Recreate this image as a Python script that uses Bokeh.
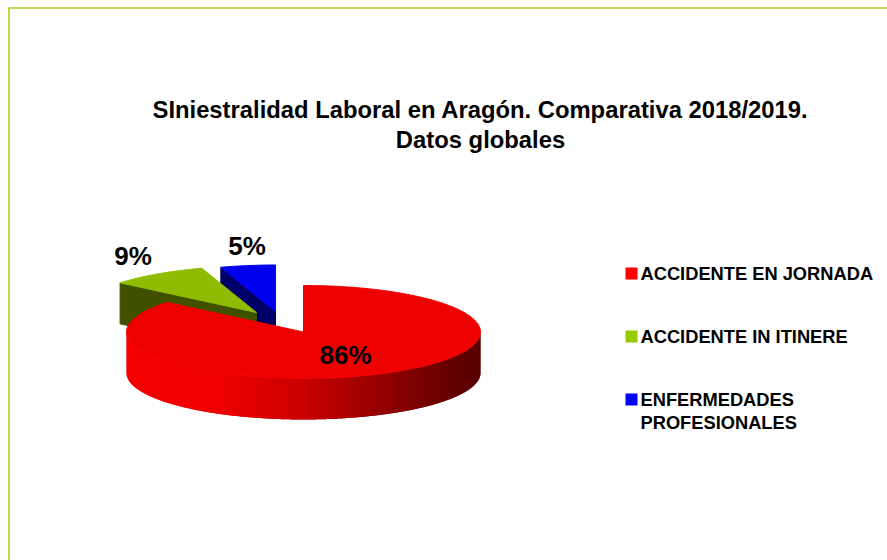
import math
from bokeh.plotting import figure
from bokeh.embed import file_html
from bokeh.resources import INLINE
from bokeh.core.properties import value
from bokeh.models import Range1d

categories = ["ACCIDENTE EN JORNADA", "ACCIDENTE IN ITINERE", "ENFERMEDADES PROFESIONALES"]
values = [86, 9, 5]
pct_labels = ["86%", "9%", "5%"]
title_lines = ["SIniestralidad Laboral en Aragón. Comparativa 2018/2019.", "Datos globales"]

FONT = value("Liberation Sans")
W, H = 887, 560
p = figure(width=W, height=H, x_range=Range1d(0, W), y_range=Range1d(H, 0),
           output_backend="svg", toolbar_location=None, min_border=0,
           background_fill_color="white", border_fill_color="white")
p.axis.visible = False
p.grid.visible = False
p.outline_line_color = None

# frame
p.segment([8, 8.5], [7.5, 7.5], [W, 8.5], [7.5, H], line_color="#A6D21E", line_width=1.6)

RX, RY, DEPTH = 177.0, 46.5, 41.0
CENTERS = [(303.0, 331.5), (256.0, 312.0), (275.0, 311.0)]
TOPS = ["#EE0000", "#8FBC00", "#0000EE"]
FACES = ["#7A0000", "#3F5000", "#000066"]
SWATCH = ["#FF0000", "#99CC00", "#0000FF"]

total = sum(values)
edges = [0.0]
for v in values:
    edges.append(edges[-1] + 360.0 * v / total)


def pt(c, deg):
    a = math.radians(deg)
    return c[0] + RX * math.sin(a), c[1] - RY * math.cos(a)


def wedge(c, a0, a1):
    n = max(2, int(a1 - a0))
    pts = [c] + [pt(c, a0 + (a1 - a0) * i / n) for i in range(n + 1)]
    return [q[0] for q in pts], [q[1] for q in pts]


def lerp_color(t):
    stops = [(0.0, (245, 0, 0)), (0.25, (240, 0, 0)), (0.5, (200, 0, 0)), (0.75, (140, 0, 0)), (0.93, (96, 0, 0)), (1.0, (90, 0, 0))]
    for (t0, c0), (t1, c1) in zip(stops, stops[1:]):
        if t <= t1:
            f = (t - t0) / (t1 - t0)
            return "#%02X%02X%02X" % tuple(round(a + (b - a) * f) for a, b in zip(c0, c1))
    return "#5A0000"


# back slices first: blue, then green
for i in (2, 1):
    c = CENTERS[i]
    a0, a1 = edges[i], edges[i + 1]
    ox, oy = pt(c, a0)
    p.patch([c[0], ox, ox, c[0]], [c[1], oy, oy + DEPTH, c[1] + DEPTH], fill_color=FACES[i], line_color=FACES[i])
    xs, ys = wedge(c, a0, a1)
    p.patch(xs, ys, fill_color=TOPS[i], line_color=TOPS[i])

# red wall with gradient along the front half (each piece overlaps the next)
c = CENTERS[0]
N = 120
wx, wy, wc = [], [], []
for k in range(N):
    d0 = 270 - 180 * k / N
    ds = [d0 - 180 * j / (N * 6) for j in range(0, 13)]
    ds = [max(d, 90) for d in ds]
    pts = [pt(c, d) for d in ds]
    wx.append([q[0] for q in pts] + [q[0] for q in reversed(pts)])
    wy.append([q[1] for q in pts] + [q[1] + DEPTH for q in reversed(pts)])
    wc.append(lerp_color((pts[0][0] - (c[0] - RX)) / (2 * RX)))
p.patches(wx, wy, fill_color=wc, line_color=None)
xs, ys = wedge(c, edges[0], edges[1])
p.patch(xs, ys, fill_color=TOPS[0], line_color=TOPS[0])

# percentage labels
p.text([345, 132.5, 246.5], [354, 255, 245], text=pct_labels, text_font=FONT, text_font_style="bold",
       text_font_size="26px", text_align="center", text_baseline="alphabetic", text_color="black")

# title
p.text([480, 480], [109, 139], text=title_lines, text_font=FONT, text_font_style="bold",
       text_font_size="23.8px", text_align="center", text_baseline="alphabetic", text_color="black")

# legend
p.rect([631, 631, 631], [273, 336, 399], width=12, height=12, fill_color=SWATCH, line_color=None)
leg_text = [categories[0], categories[1], categories[2].split(" ")[0], categories[2].split(" ")[1]]
p.text([640] * 4, [273, 336, 399, 422], text=leg_text, text_font=FONT, text_font_style="bold",
       text_font_size="18.3px", text_align="left", text_baseline="alphabetic", text_color="black")

open("out.html", "w").write(file_html(p, INLINE))
